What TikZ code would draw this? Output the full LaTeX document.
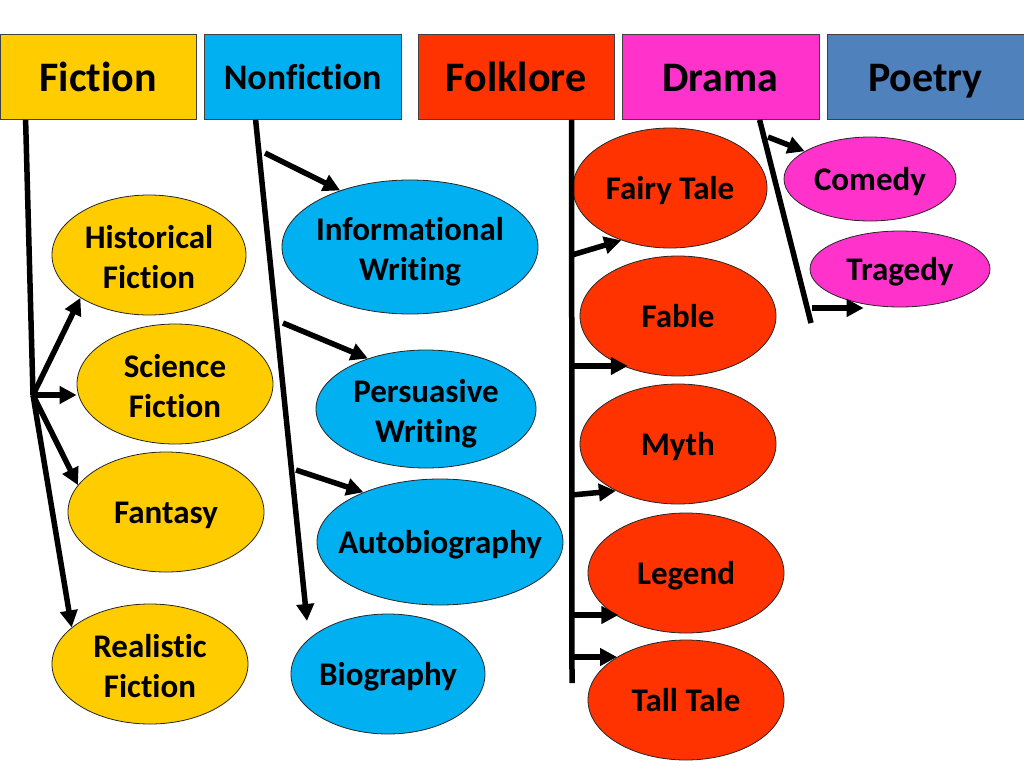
\documentclass[tikz,border=0pt]{standalone}
\usepackage{fontspec}
\setmainfont{Carlito}[Ligatures=CommonOff]
\usetikzlibrary{shapes.geometric,arrows.meta,calc}
\definecolor{cfic}{HTML}{FFCC00}
\definecolor{cnon}{HTML}{00B0F0}
\definecolor{cfol}{HTML}{FF3300}
\definecolor{cdra}{HTML}{FF33CC}
\definecolor{cpoe}{HTML}{4F81BD}
\begin{document}
\begin{tikzpicture}[x=1pt,y=-1pt,
  hdr/.style={draw=black!75, line width=0.8pt, minimum height=85pt, minimum width=197pt, inner sep=0, text height=29pt, text depth=0pt, font=\fontsize{42}{50}\selectfont\bfseries},
  el/.style={ellipse, draw=black!85, line width=0.8pt, inner sep=0},
  tx/.style={font=\fontsize{33}{40}\selectfont\bfseries, align=center, inner sep=0, text height=21pt, text depth=0pt, yshift=-1pt},
  txx/.style={font=\fontsize{33}{40}\selectfont\bfseries, align=center, inner sep=0, text depth=0pt, yshift=-1.5pt},
  trunk/.style={line width=5.5pt},
  arr/.style={line width=5.5pt, -{Triangle[length=17pt,width=17pt]}},
]
\useasboundingbox (0,0) rectangle (1024,768);
% headers
\node[hdr, fill=cfic, minimum width=196pt] (fic) at (98,77) {Fiction};
\node[hdr, fill=cnon, text height=25pt, font=\fontsize{36}{44}\selectfont\bfseries] (non) at (302.5,77) {Nonfiction};
\node[hdr, fill=cfol, minimum width=196pt] (fol) at (516,77) {Folklore};
\node[hdr, fill=cdra] (dra) at (720.5,77) {Drama};
\node[hdr, fill=cpoe] (poe) at (925.5,77) {Poetry};
% fiction ellipses
\node[el, fill=cfic, minimum width=194pt, minimum height=120pt, label={[txx]center:{Historical\\Fiction}}] (hist) at (149,255) {};
\node[el, fill=cfic, minimum width=196pt, minimum height=120pt, label={[txx]center:{Science\\Fiction}}] (sci) at (175,384) {};
\node[el, fill=cfic, minimum width=196pt, minimum height=120pt, label={[tx]center:{Fantasy}}] (fan) at (166,512) {};
\node[el, fill=cfic, minimum width=196pt, minimum height=120pt, label={[txx]center:{Realistic\\Fiction}}] (real) at (150,664) {};
% nonfiction ellipses
\node[el, fill=cnon, minimum width=256pt, minimum height=134pt, label={[txx]center:{Informational\\Writing}}] (info) at (410,247) {};
\node[el, fill=cnon, minimum width=220pt, minimum height=118pt, label={[txx]center:{Persuasive\\Writing}}] (pers) at (426,409) {};
\node[el, fill=cnon, minimum width=246pt, minimum height=126pt, label={[tx]center:{Autobiography}}] (auto) at (440,542) {};
\node[el, fill=cnon, minimum width=194pt, minimum height=120pt, label={[tx]center:{Biography}}] (bio) at (388,674) {};
% folklore ellipses
\node[el, fill=cfol, minimum width=194pt, minimum height=120pt, label={[tx]center:{Fairy Tale}}] (fairy) at (670,188) {};
\node[el, fill=cfol, minimum width=196pt, minimum height=120pt, label={[tx]center:{Fable}}] (fable) at (678,316) {};
\node[el, fill=cfol, minimum width=196pt, minimum height=120pt, label={[tx]center:{Myth}}] (myth) at (678,444) {};
\node[el, fill=cfol, minimum width=196pt, minimum height=120pt, label={[tx]center:{Legend}}] (leg) at (686,573) {};
\node[el, fill=cfol, minimum width=196pt, minimum height=120pt, label={[tx]center:{Tall Tale}}] (tall) at (686,700) {};
% drama ellipses
\node[el, fill=cdra, minimum width=172pt, minimum height=84pt, label={[tx]center:{Comedy}}] (com) at (870,179) {};
\node[el, fill=cdra, minimum width=180pt, minimum height=76pt, label={[tx]center:{Tragedy}}] (trag) at (900,269) {};
% fiction connectors
\coordinate (fj) at (33,395);
\draw[trunk] ([xshift=26pt]fic.south west) -- (fj);
\draw[arr] (fj) -- (hist.212);
\draw[arr] (fj) -- (fj -| sci.west);
\draw[arr] (fj) -- (fan.163);
\draw[arr] (fj) -- (real.155);
% nonfiction connectors
\coordinate (nb) at (307,621);
\draw[arr] ([xshift=52pt]non.south west) -- (nb);
\coordinate (n1) at (265,153);
\coordinate (n2) at (283,323);
\coordinate (n3) at (296,470);
\draw[arr] (n1) -- (info.141);
\draw[arr] (n2) -- (pers.139);
\draw[arr] (n3) -- (auto.147);
% folklore connectors
\coordinate (fb) at (572,683);
\draw[trunk] ([xshift=154pt]fol.south west) -- (fb);
\coordinate (f1) at (572,255);
\coordinate (f2) at (572,366);
\coordinate (f3) at (572,495);
\coordinate (f4) at (572,615);
\coordinate (f5) at (572,657);
\draw[arr] (f1) -- (fairy.227);
\draw[arr] (f2) -- (f2 -| fable.226);
\draw[arr] (f3) -- (myth.217);
\draw[arr] (f4) -- (f4 -| leg.213);
\draw[arr] (f5) -- (f5 -| tall.148);
% drama connectors
\coordinate (dj) at (811,323);
\draw[trunk] ([xshift=138pt]dra.south west) -- (dj);
\coordinate (d1) at (768,137);
\coordinate (d2) at (812,308);
\draw[arr] (d1) -- (com.157);
\draw[arr] (d2) -- (d2 -| trag.224);
\end{tikzpicture}
\end{document}
